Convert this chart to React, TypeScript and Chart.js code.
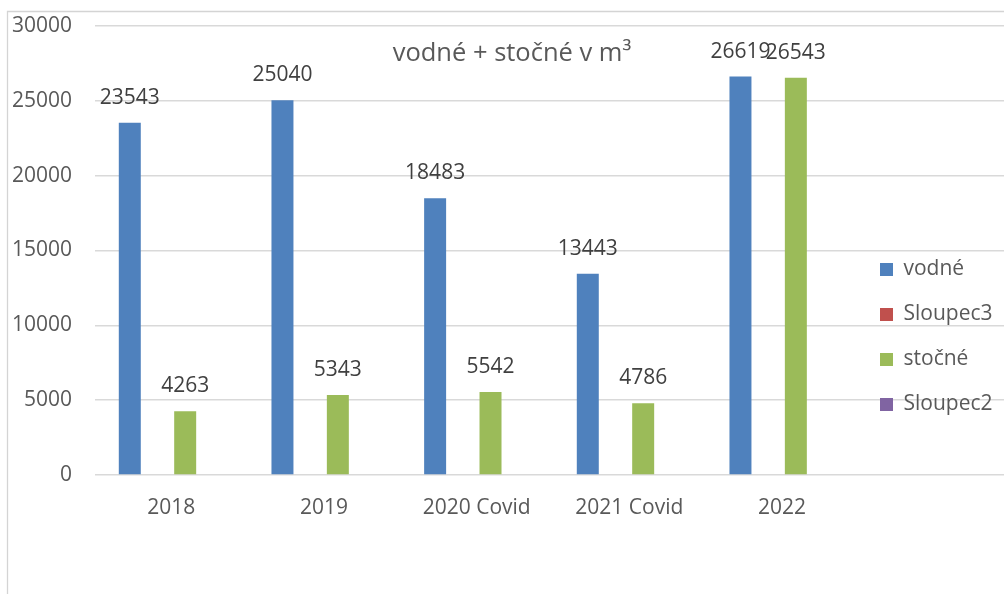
import React, { useEffect, useRef } from "react";
import { Chart, registerables } from "chart.js";

Chart.register(...registerables);

const categories = ["2018", "2019", "2020 Covid", "2021 Covid", "2022", ""];
const vodne: (number | null)[] = [23543, 25040, 18483, 13443, 26619, null];
const sloupec3: (number | null)[] = [null, null, null, null, null, null];
const stocne: (number | null)[] = [4263, 5343, 5542, 4786, 26543, null];
const sloupec2: (number | null)[] = [null, null, null, null, null, null];
const yMin = 0;
const yMax = 30000;
const yStep = 5000;
const titleText = "vodné + stočné v m³";

const FONT = "'Open Sans', 'Noto Sans', sans-serif";
const AXIS_COLOR = "#595959";
const LABEL_COLOR = "#404040";
const GRID_COLOR = "#d9d9d9";

const CANVAS_W = 1012;
const CANVAS_H = 594;

const borderPlugin = {
  id: "chartBorder",
  beforeDraw(chart: any) {
    const ctx = chart.ctx;
    ctx.save();
    ctx.strokeStyle = "#d4d4d4";
    ctx.lineWidth = 1.3;
    ctx.beginPath();
    ctx.moveTo(7.5, CANVAS_H);
    ctx.lineTo(7.5, 11.5);
    ctx.lineTo(CANVAS_W, 11.5);
    ctx.stroke();
    ctx.restore();
  },
};

const titlePlugin = {
  id: "insideTitle",
  afterDraw(chart: any) {
    const ctx = chart.ctx;
    ctx.save();
    ctx.font = `25.5px ${FONT}`;
    ctx.fillStyle = AXIS_COLOR;
    ctx.textAlign = "center";
    ctx.textBaseline = "alphabetic";
    ctx.fillText(titleText, 512, 61);
    ctx.restore();
  },
};

const valueLabelPlugin = {
  id: "valueLabels",
  afterDatasetsDraw(chart: any) {
    const ctx = chart.ctx;
    ctx.save();
    ctx.font = `21px ${FONT}`;
    ctx.fillStyle = LABEL_COLOR;
    ctx.textAlign = "center";
    ctx.textBaseline = "middle";
    chart.data.datasets.forEach((ds: any, i: number) => {
      const meta = chart.getDatasetMeta(i);
      meta.data.forEach((bar: any, j: number) => {
        const v = ds.data[j];
        if (v === null || v === undefined) return;
        ctx.fillText(String(v), bar.x, bar.y - 25);
      });
    });
    ctx.restore();
  },
};

const legendPlacePlugin = {
  id: "legendPlace",
  afterLayout(chart: any) {
    const lg = chart.legend;
    if (!lg) return;
    const w = lg.width;
    lg.left = 856;
    lg.right = 856 + w;
    lg.top = 235;
    lg.bottom = CANVAS_H;
    lg.height = lg.bottom - lg.top;
  },
};

export default function App() {
  const ref = useRef<HTMLCanvasElement | null>(null);

  useEffect(() => {
    if (!ref.current) return;
    const chart = new Chart(ref.current, {
      type: "bar",
      data: {
        labels: categories,
        datasets: [
          { label: "vodné", data: vodne, backgroundColor: "#4f81bd", borderWidth: 0 },
          { label: "Sloupec3", data: sloupec3, backgroundColor: "#c0504d", borderWidth: 0 },
          { label: "stočné", data: stocne, backgroundColor: "#9bbb59", borderWidth: 0 },
          { label: "Sloupec2", data: sloupec2, backgroundColor: "#8064a2", borderWidth: 0 },
        ],
      },
      options: {
        animation: false,
        responsive: false,
        devicePixelRatio: 1,
        categoryPercentage: 0.7256,
        barPercentage: 0.794,
        layout: { padding: { left: 0, top: 26, right: 1, bottom: 0 } },
        scales: {
          x: {
            grid: { display: false },
            border: { display: false },
            ticks: {
              color: AXIS_COLOR,
              font: { family: FONT, size: 21 },
              padding: 12,
              maxRotation: 0,
              autoSkip: false,
            },
            afterFit: (s: any) => {
              s.height = 119;
            },
          },
          y: {
            min: yMin,
            max: yMax,
            ticks: {
              stepSize: yStep,
              color: AXIS_COLOR,
              font: { family: FONT, size: 21 },
              padding: 23,
              callback: (v: any) => String(v),
            },
            grid: { color: GRID_COLOR, lineWidth: 1.5, drawTicks: false },
            border: { display: false },
            afterFit: (s: any) => {
              s.width = 95;
              s.paddingTop = 0;
              s.paddingBottom = 0;
            },
          },
        },
        plugins: {
          legend: {
            position: "chartArea" as any,
            align: "start",
            labels: {
              boxWidth: 13,
              boxHeight: 13,
              padding: 24,
              color: AXIS_COLOR,
              font: { family: FONT, size: 21 },
            },
          },
          title: { display: false },
          tooltip: { enabled: false },
        },
      } as any,
      plugins: [borderPlugin, titlePlugin, valueLabelPlugin, legendPlacePlugin],
    });
    return () => chart.destroy();
  }, []);

  return (
    <div
      style={{
        position: "fixed",
        left: 0,
        top: 0,
        width: 1004,
        height: 594,
        overflow: "hidden",
        background: "#ffffff",
      }}
    >
      <canvas ref={ref} width={CANVAS_W} height={CANVAS_H} style={{ display: "block" }} />
    </div>
  );
}
